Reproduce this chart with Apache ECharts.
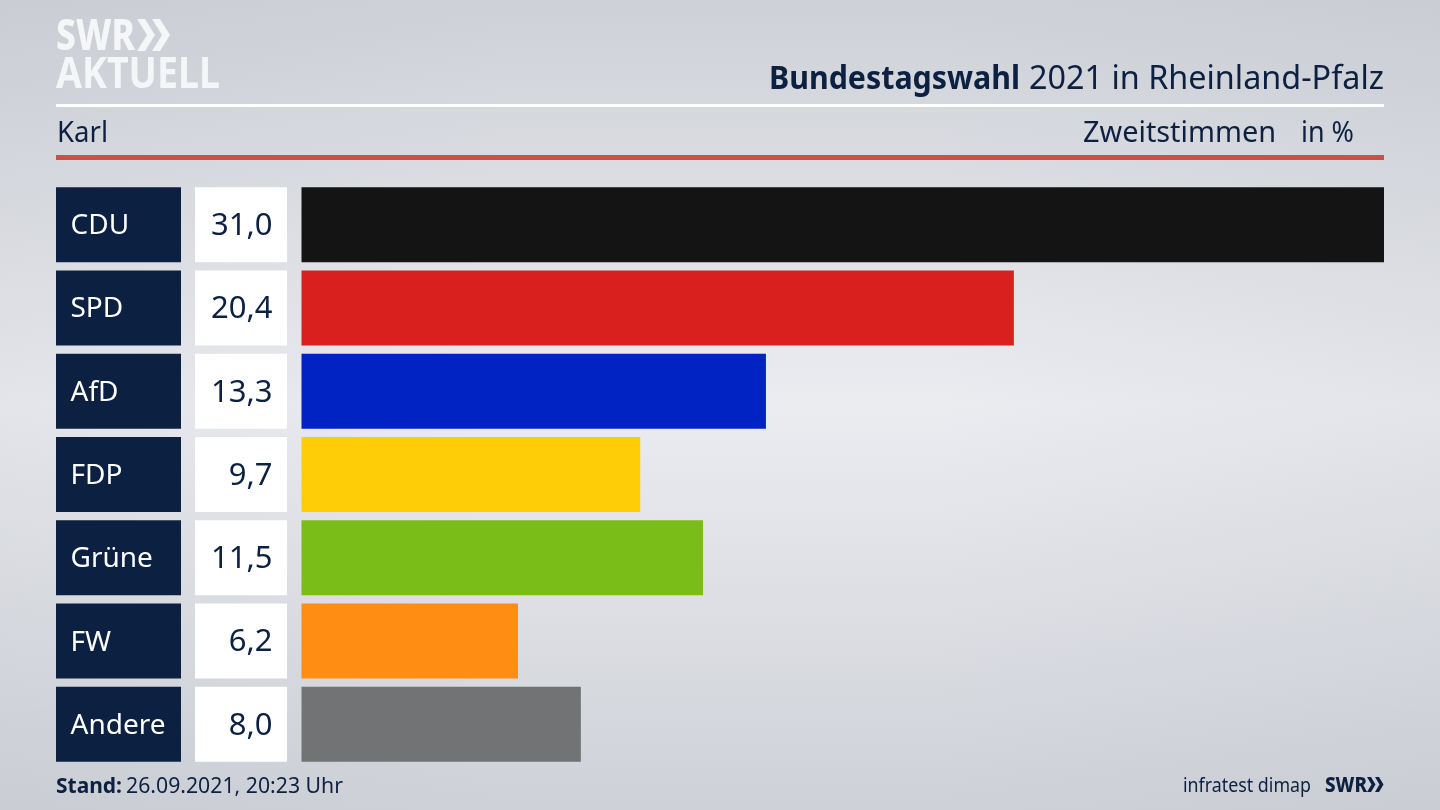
<!DOCTYPE html>
<html><head><meta charset="utf-8">
<style>html,body{margin:0;padding:0;overflow:hidden}#c{width:1440px;height:810px}</style>
<script src="https://cdn.jsdelivr.net/npm/echarts@6/dist/echarts.min.js"></script>
</head><body><div id="c"></div>
<script>
const categories = ['CDU','SPD','AfD','FDP','Grüne','FW','Andere'];
const values = [31.0,20.4,13.3,9.7,11.5,6.2,8.0];
const barColors = ['#141414','#da1f1f','#0223c3','#ffcd07','#7abd18','#ff8d14','#727375'];
const NAVY = '#0c2042';
const LOGO = '#f5f6f8';
const FONT = '"Noto Sans"';
const fmt = v => v.toFixed(1).replace('.', ',');

const chart = echarts.init(document.getElementById('c'), null, {renderer:'canvas', width:1440, height:810});
const measure = document.createElement('canvas').getContext('2d');

// text squeezed horizontally to span x0..x1
function fit(text, x0, x1, midY, size, weight, color) {
  const font = weight + ' ' + size + 'px ' + FONT;
  measure.font = font;
  const sx = (x1 - x0) / measure.measureText(text).width;
  return {type:'text', silent:true, x:x0, y:midY, scaleX:sx, scaleY:1,
    style:{x:0, y:0, text:text, font:font, fill:color, textAlign:'left', textVerticalAlign:'middle'}};
}
function chevron(x, y, w, h, t, fill) {
  return {type:'polygon', silent:true,
    shape:{points:[[x,y],[x+t,y],[x+t+w,y+h/2],[x+t,y+h],[x,y+h],[x+w,y+h/2]]}, style:{fill:fill}};
}
const graphic = [
  {type:'rect', silent:true, z:-1, shape:{x:0,y:0,width:1440,height:810},
   style:{fill:new echarts.graphic.LinearGradient(0,0,1,0,[
     {offset:0,color:'rgba(170,175,185,0.12)'},{offset:0.35,color:'rgba(170,175,185,0)'},
     {offset:0.65,color:'rgba(170,175,185,0)'},{offset:1,color:'rgba(170,175,185,0.12)'}])}},
  {type:'rect', silent:true, shape:{x:56,y:104,width:1328,height:3}, style:{fill:'#ffffff'}},
  {type:'rect', silent:true, shape:{x:56,y:155,width:1328,height:5}, style:{fill:'#c9533f'}},
  fit('SWR', 56, 135, 38, 42, 800, LOGO),
  fit('AKTUELL', 56, 220, 76, 43, 700, LOGO),
  chevron(137,19,10,32,8,LOGO),
  chevron(152,19,10,32,8,LOGO),
  fit('Bundestagswahl', 769, 1020, 80, 32, 700, NAVY),
  fit('2021 in Rheinland-Pfalz', 1029, 1384, 80, 32, 400, NAVY),
  fit('Karl', 57, 108, 134, 29, 400, NAVY),
  fit('Zweitstimmen', 1083, 1276, 134, 29, 400, NAVY),
  fit('in %', 1301, 1354, 134, 29, 400, NAVY),
  fit('Stand:', 56, 122, 787, 22, 700, NAVY),
  fit('26.09.2021, 20:23 Uhr', 126, 343, 787, 22, 400, NAVY),
  fit('infratest dimap', 1183, 1311, 786, 20, 400, NAVY),
  fit('SWR', 1325, 1367, 786, 21, 800, NAVY),
  chevron(1367,777,4.5,15,4,NAVY),
  chevron(1375,777,4.5,15,4,NAVY)
];

function renderLabels(params, api) {
  const i = api.value(1);
  const p = api.coord([0, i]);
  const h = 75;
  const top = p[1] - h/2;
  const x0 = p[0];
  return {type:'group', children:[
    {type:'rect', shape:{x:x0-245.5, y:top, width:125, height:h}, style:{fill:NAVY}},
    {type:'text', style:{x:x0-231, y:p[1]+1.5, text:categories[i], fill:'#ffffff', font:'400 28px '+FONT, textAlign:'left', textVerticalAlign:'middle'}},
    {type:'rect', shape:{x:x0-106.5, y:top, width:92, height:h}, style:{fill:'#ffffff'}},
    {type:'text', style:{x:x0-29, y:p[1]+1.5, text:fmt(api.value(0)), fill:NAVY, font:'400 31px '+FONT, textAlign:'right', textVerticalAlign:'middle'}}
  ]};
}

chart.setOption({
  animation:false,
  backgroundColor:{type:'linear',x:0,y:0,x2:0,y2:1,colorStops:[
    {offset:0,color:'#ced1d7'},{offset:0.5,color:'#ebecf0'},{offset:1,color:'#ced1d7'}]},
  graphic:graphic,
  grid:{left:301.5,right:56,top:183,height:583,containLabel:false},
  xAxis:{type:'value',min:0,max:31,show:false},
  yAxis:{type:'category',data:categories,inverse:true,show:false},
  series:[
    {type:'bar',barWidth:75,silent:true,
     data:values.map((v,i)=>({value:v,itemStyle:{color:barColors[i]}}))},
    {type:'custom',silent:true,clip:false,renderItem:renderLabels,
     encode:{x:0,y:1},
     data:values.map((v,i)=>[v,i])}
  ]
});
</script></body></html>
